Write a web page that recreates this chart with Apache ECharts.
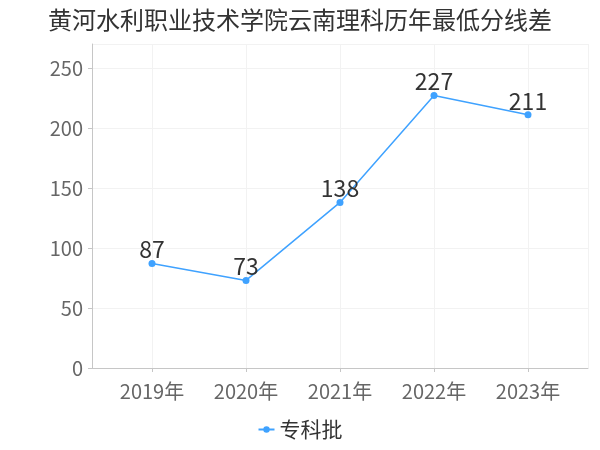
<!DOCTYPE html>
<html><head><meta charset="utf-8">
<script src="https://cdn.jsdelivr.net/npm/echarts@6/dist/echarts.min.js"></script>
<style>html,body{margin:0;padding:0;background:#fff}#c{width:600px;height:450px}</style>
</head><body><div id="c"></div>
<script>
const titleText = '黄河水利职业技术学院云南理科历年最低分线差';
const categories = ['2019年','2020年','2021年','2022年','2023年'];
const seriesName = '专科批';
const values = [87, 73, 138, 227, 211];

const FONT = '"Noto Sans CJK SC", "Noto Sans", sans-serif';
const lineColor = '#3fa2ff';
const axisColor = '#c6c6c6';
const splitColor = '#f2f2f2';

const chart = echarts.init(document.getElementById('c'));
chart.setOption({
  animation: false,
  textStyle: { fontFamily: FONT },
  title: { text: titleText, left: 'center', top: 3,
    textStyle: { fontSize: 24, fontWeight: 'normal', color: '#333', fontFamily: FONT } },
  legend: { bottom: 5, left: 'center', itemWidth: 16, itemHeight: 8,
    textStyle: { fontSize: 21, color: '#333', fontFamily: FONT }, data: [seriesName] },
  grid: [
    { left: 92, right: 12, top: 44, bottom: 82 },
    { left: 152, right: 72, top: 44, bottom: 82 }
  ],
  xAxis: [
    { gridIndex: 0, type: 'value', min: 0, max: 1, interval: 1, offset: 4,
      axisLine: { show: true, lineStyle: { color: axisColor } },
      axisTick: { show: false }, axisLabel: { show: false },
      splitLine: { show: true, lineStyle: { color: splitColor } } },
    { gridIndex: 1, type: 'category', data: categories, boundaryGap: false, offset: 4,
      axisLine: { show: false },
      axisTick: { show: true, length: 4, lineStyle: { color: axisColor } },
      axisLabel: { fontSize: 20, color: '#666', margin: 9, fontFamily: FONT },
      splitLine: { show: true, lineStyle: { color: splitColor } } }
  ],
  yAxis: [
    { gridIndex: 0, type: 'value', min: 0, max: 270, interval: 50, offset: 3,
      axisLine: { show: true, lineStyle: { color: axisColor } },
      axisTick: { show: true, length: 4, lineStyle: { color: axisColor } },
      axisLabel: { fontSize: 20, color: '#666', margin: 6, showMaxLabel: false, fontFamily: FONT },
      splitLine: { show: true, lineStyle: { color: splitColor } } },
    { gridIndex: 1, type: 'value', min: 0, max: 270, interval: 50, show: false,
      splitLine: { show: false } }
  ],
  series: [{
    name: seriesName, type: 'line', xAxisIndex: 1, yAxisIndex: 1,
    data: values, symbol: 'circle', symbolSize: 7,
    itemStyle: { color: lineColor },
    lineStyle: { color: lineColor, width: 1.5 },
    label: { show: true, position: 'top', fontSize: 23, color: '#333', distance: 3, offset: [0, 4], fontFamily: FONT }
  }]
});
</script></body></html>
